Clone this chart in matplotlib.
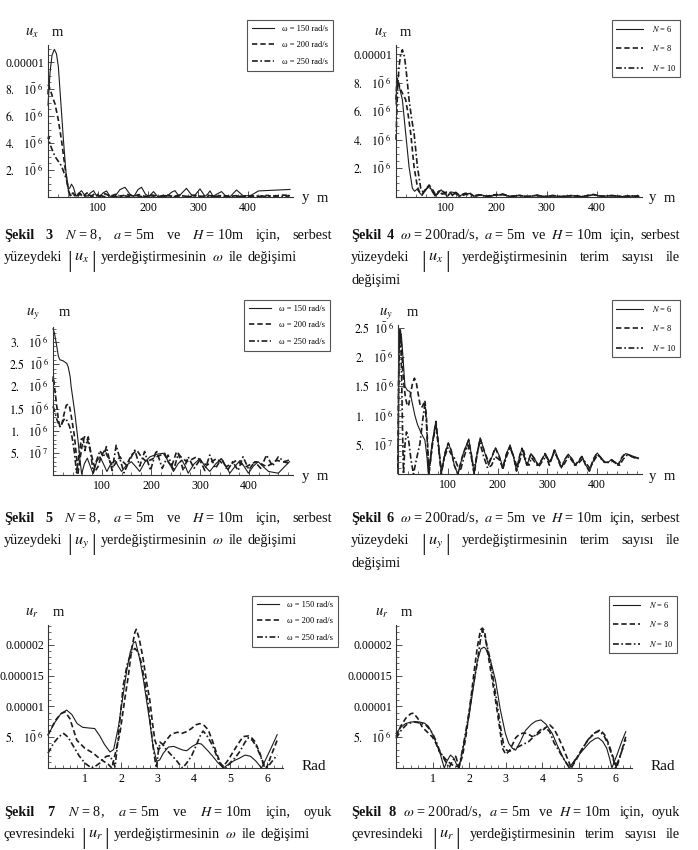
import numpy as np
import matplotlib
matplotlib.use("Agg")
import matplotlib.pyplot as plt
from matplotlib.ticker import FixedLocator, FixedFormatter, MultipleLocator
from matplotlib.lines import Line2D

plt.rcParams['font.family'] = ['Liberation Serif', 'DejaVu Serif']
plt.rcParams['mathtext.fontset'] = 'stix'

# ---------------- data (y values in units of 1e-6 m) ----------------
E6 = 1e-6
# Sekil 3 : |u_x| along free surface, omega variation
s3_w150 = [(0,6.8),(4,9.2),(8,10.5),(12.7,10.94),(17,10.6),(20.7,9.65),(25.3,7.2),(30.7,4.3),(36,1.8),(40.7,0.56),
           (44,0.7),(47,0.95),(51,0.7),(56,0.05),(62,0.3),(67,0.47),(72,0.2),(78,0.05),(85,0.3),(91,0.47),
           (97,0.1),(104,0.05),(110,0.3),(117,0.45),(124,0.05),(134,0.05),(144,0.55),(154,0.72),(164,0.2),(172,0.05),
           (180,0.55),(187,0.72),(195,0.2),(202,0.05),(211,0.4),(219,0.05),(238,0.05),(247,0.35),(254,0.47),(262,0.05),
           (268,0.3),(277,0.64),(286,0.2),(292,0.05),(304,0.6),(314,0.05),(319,0.2),(324,0.45),(330,0.05),(337,0.2),
           (347,0.4),(356,0.05),(365,0.05),(377,0.52),(390,0.1),(405,0.1),(421,0.45),(450,0.5),(484,0.56)]
s3_w200 = [(0,7.6),(1,8.3),(5,7.9),(10,7.3),(14,6.9),(20.7,5.7),(27,4.2),(34,2.2),(40.7,0.5),(44,0.1),(50,0.3),(56,0.05),
           (63,0.3),(70,0.05),(78,0.3),(86,0.05),(95,0.28),(104,0.05),(114,0.25),(124,0.05),(135,0.2),(146,0.05),
           (158,0.2),(170,0.05),(182,0.18),(195,0.03),(208,0.15),(222,0.03),(236,0.18),(250,0.03),(264,0.15),(278,0.03),
           (292,0.14),(306,0.03),(320,0.12),(334,0.03),(348,0.12),(362,0.03),(376,0.1),(390,0.03),(405,0.1),(420,0.03),
           (436,0.12),(452,0.05),(468,0.14),(484,0.12)]
s3_w250 = [(0,4.3),(1.5,4.5),(4,3.9),(14,3.0),(27,2.3),(37,1.3),(41,0.6),(44,0.1),(50,0.2),(56,0.02),(64,0.2),(72,0.02),
           (82,0.15),(92,0.02),(102,0.15),(113,0.02),(125,0.12),(137,0.02),(150,0.12),(163,0.02),(176,0.1),(190,0.02),
           (205,0.1),(220,0.02),(235,0.1),(250,0.02),(265,0.1),(280,0.02),(296,0.08),(312,0.02),(328,0.08),(344,0.02),
           (360,0.08),(376,0.02),(392,0.08),(408,0.02),(424,0.1),(440,0.02),(456,0.1),(472,0.03),(484,0.1)]

# Sekil 4 : |u_x| along free surface, number of terms N
s4_n6 = [(0,6.5),(1.5,8.0),(2.7,8.2),(6,7.8),(12.7,6.8),(19.3,4.45),(26,2.1),(32.7,0.6),(37,0.4),(42,0.55),(47,0.3),
         (52,0.1),(58,0.45),(66,0.8),(72,0.4),(78,0.05),(84,0.35),(90,0.5),(97,0.2),(103,0.05),(110,0.35),(118,0.3),
         (125,0.05),(135,0.2),(146,0.25),(157,0.05),(170,0.15),(183,0.03),(198,0.12),(213,0.15),(228,0.03),(245,0.1),
         (262,0.03),(280,0.1),(296,0.03),(312,0.08),(330,0.03),(350,0.08),(370,0.03),(393,0.15),(410,0.05),(430,0.08),
         (450,0.03),(470,0.06),(484,0.05)]
s4_n8 = [(0,6.8),(1.5,8.1),(2.7,8.3),(8,7.6),(19.3,6.8),(24,5.8),(29.3,4.45),(36,2.1),(42.7,0.7),(47,0.35),(52,0.2),
         (58,0.5),(66,0.84),(73,0.5),(80,0.1),(89,0.5),(97,0.3),(106,0.4),(113,0.1),(119,0.33),(127,0.1),(137,0.25),
         (146,0.3),(155,0.05),(168,0.15),(180,0.05),(195,0.15),(213,0.2),(228,0.05),(245,0.12),(262,0.03),(280,0.12),
         (296,0.03),(312,0.1),(330,0.03),(350,0.1),(370,0.03),(393,0.18),(410,0.05),(430,0.1),(450,0.03),(470,0.08),
         (484,0.05)]
s4_n10 = [(0,4.0),(3,7.5),(6,9.1),(9,9.9),(12.7,10.3),(17,9.8),(21,8.6),(26,6.8),(31,5.5),(36,4.45),(42.7,2.1),
          (49.3,0.6),(55,0.3),(60,0.55),(66,0.75),(72,0.4),(78,0.15),(85,0.4),(92,0.2),(100,0.3),(108,0.1),(118,0.25),
          (128,0.05),(140,0.2),(152,0.05),(165,0.15),(180,0.03),(196,0.12),(213,0.18),(228,0.03),(245,0.1),(262,0.03),
          (280,0.12),(296,0.03),(312,0.1),(330,0.03),(350,0.1),(370,0.03),(393,0.15),(410,0.05),(430,0.1),(450,0.03),
          (470,0.08),(484,0.06)]

# Sekil 5 : |u_y| along free surface, omega variation
s5_w150 = [(0,3.3),(3,3.2),(7,2.95),(11,2.68),(14,2.6),(20,2.58),(24,2.55),(28,2.52),(31,2.44),(35,2.22),(37,2.0),
           (44,1.45),(51,0.79),(55,0.35),(58.5,0.02),(64,0.25),(70,0.38),(76,0.2),(82,0.03),(89,0.3),(96,0.41),
           (103,0.25),(110,0.08),(118,0.25),(127,0.33),(133,0.2),(140,0.08),(150,0.22),(160,0.3),(168,0.2),(177,0.08),
           (188,0.3),(198,0.41),(212,0.47),(225,0.49),(236,0.3),(246,0.08),(255,0.25),(263,0.34),(270,0.2),(276,0.04),
           (288,0.25),(300,0.37),(310,0.2),(320,0.08),(332,0.25),(344,0.37),(353,0.2),(361,0.04),(372,0.2),(382,0.33),
           (391,0.18),(399,0.04),(409,0.2),(419,0.3),(430,0.18),(440,0.08),(450,0.06),(460,0.04),(472,0.18),(483,0.3)]
s5_w200 = [(0,2.1),(0.6,2.22),(3,2.0),(7.5,1.57),(11,1.25),(14,1.09),(18,1.15),(22,1.35),(27,1.57),(31,1.6),(34,1.53),
           (37,1.35),(44,0.86),(48,0.4),(51,0.04),(55,0.35),(60,0.7),(64,0.86),(68.7,0.86),(75,0.6),(82,0.3),(87,0.1),
           (92,0.19),(99,0.45),(106,0.56),(114,0.35),(123,0.19),(130,0.3),(137,0.41),(143,0.3),(150,0.22),(160,0.45),
           (171,0.56),(181,0.4),(191,0.3),(201,0.35),(211,0.41),(220,0.45),(228,0.49),(235,0.3),(242,0.19),(247,0.35),
           (252,0.52),(262,0.4),(273,0.3),(283,0.35),(293,0.41),(303,0.3),(314,0.22),(324,0.3),(334,0.37),(344,0.28),
           (354,0.19),(364,0.25),(374,0.33),(384,0.25),(395,0.19),(405,0.25),(415,0.3),(425,0.25),(436,0.19),(446,0.25),
           (456,0.33),(470,0.3),(483,0.26)]
s5_w250 = [(0,1.55),(3,1.45),(8,1.25),(14,1.09),(19,1.18),(24,1.28),(29,1.22),(34,1.09),(39,0.85),(44,0.49),(48,0.05),
           (53,0.45),(58.5,0.86),(62,0.8),(65,0.55),(68,0.7),(72,0.86),(77,0.5),(82,0.05),(88,0.3),(96,0.55),(103,0.4),
           (109,0.64),(116,0.3),(121,0.1),(125,0.4),(129,0.67),(137,0.35),(145,0.05),(155,0.3),(167,0.56),(177,0.2),
           (187,0.53),(199,0.1),(211,0.56),(223,0.15),(235,0.45),(246,0.1),(256,0.49),(266,0.1),(276,0.41),(288,0.15),
           (300,0.34),(310,0.1),(320,0.45),(332,0.15),(344,0.38),(356,0.1),(367,0.3),(378,0.1),(388,0.41),(400,0.12),
           (412,0.3),(424,0.15),(436,0.45),(448,0.2),(460,0.41),(472,0.3),(483,0.34)]

# Sekil 6 : |u_y| along free surface, number of terms N
s6_n6 = [(0,0.1),(2,2.2),(4,2.47),(7,2.35),(10,2.0),(14,1.5),(19,1.43),(24,1.41),(29,1.2),(34,1.0),(39,0.85),(44,0.75),
         (49,0.66),(54,0.58),(58,0.3),(61,0.0),(68,0.5),(76,0.9),(82,0.45),(87,0.0),(94,0.35),(101,0.53),(107,0.4),
         (113,0.15),(120,0.0),(131,0.35),(142,0.6),(148,0.3),(153,0.0),(159,0.35),(165,0.62),(173,0.4),(182,0.15),
         (189,0.3),(196,0.45),(204,0.3),(211,0.1),(218,0.35),(225,0.5),(232,0.3),(238,0.05),(244,0.3),(249,0.44),
         (255,0.25),(259,0.15),(263,0.25),(267,0.35),(275,0.25),(282,0.15),(289,0.25),(296,0.35),(305,0.2),(310,0.3),
         (315,0.41),(322,0.25),(328,0.1),(335,0.25),(342,0.34),(350,0.25),(356,0.15),(363,0.22),(370,0.3),(377,0.15),
         (385,0.05),(393,0.25),(400,0.36),(408,0.28),(415,0.2),(422,0.2),(429,0.25),(436,0.2),(443,0.17),(450,0.28),
         (457,0.35),(464,0.33),(470,0.31),(477,0.29),(483,0.27)]
s6_n8 = [(0,0.1),(2,2.2),(4,2.47),(7,2.2),(11,1.6),(15,1.3),(18,1.2),(21,1.16),(25,1.35),(29,1.55),(33,1.64),(37,1.55),
         (41,1.35),(45,1.15),(49,1.15),(54,1.26),(57,1.0),(60,0.4),(62,0.0),(69,0.5),(76,0.9),(82,0.45),(87,0.0),
         (94,0.35),(101,0.53),(107,0.4),(113,0.15),(120,0.0),(131,0.35),(142,0.58),(148,0.3),(153,0.0),(159,0.35),
         (165,0.61),(173,0.4),(182,0.2),(189,0.3),(195,0.45),(203,0.3),(210,0.1),(218,0.35),(225,0.47),(232,0.3),
         (238,0.05),(244,0.3),(249,0.44),(255,0.25),(259,0.15),(263,0.25),(267,0.35),(275,0.25),(281,0.15),(289,0.25),
         (295,0.35),(304,0.15),(310,0.3),(314,0.41),(321,0.25),(328,0.1),(335,0.25),(342,0.33),(350,0.25),(355,0.15),
         (362,0.22),(369,0.3),(377,0.15),(384,0.05),(392,0.25),(399,0.35),(407,0.28),(414,0.2),(422,0.2),(429,0.24),
         (436,0.2),(442,0.15),(449,0.28),(455,0.34),(463,0.33),(470,0.3),(477,0.28),(483,0.27)]
s6_n10 = [(0,0.0),(1,1.5),(3,2.35),(5,2.45),(7,1.8),(9,0.8),(11,0.0),(14,0.5),(17,0.72),(21,0.6),(26,0.25),(31,0.0),
          (37,0.25),(44,0.52),(50,0.95),(54,1.2),(57,0.9),(60,0.3),(62,0.0),(69,0.5),(76,0.85),(82,0.4),(87,0.05),
          (94,0.3),(100,0.45),(106,0.35),(112,0.3),(119,0.15),(125,0.05),(133,0.3),(140,0.5),(147,0.3),(152,0.05),
          (158,0.3),(164,0.55),(172,0.3),(180,0.1),(188,0.15),(195,0.3),(203,0.25),(211,0.1),(218,0.3),(225,0.45),
          (232,0.3),(240,0.1),(247,0.3),(252,0.4),(258,0.2),(263,0.15),(268,0.28),(275,0.2),(282,0.12),(290,0.22),
          (297,0.3),(305,0.2),(314,0.38),(322,0.25),(330,0.12),(337,0.22),(343,0.3),(350,0.22),(357,0.15),(364,0.2),
          (371,0.26),(378,0.18),(385,0.1),(393,0.22),(401,0.33),(408,0.26),(416,0.2),(423,0.2),(431,0.22),(438,0.18),
          (445,0.15),(452,0.25),(459,0.32),(466,0.31),(474,0.28),(483,0.26)]

# Sekil 7 : |u_r| around the cavity, omega variation (x in rad)
s7_w150 = [(0,5.35),(0.2,7.5),(0.35,8.8),(0.51,9.4),(0.65,8.7),(0.8,7.2),(0.95,6.6),(1.1,6.5),(1.28,6.4),(1.42,5.2),
           (1.55,3.8),(1.7,2.6),(1.8,3.0),(1.93,6.7),(2.05,11.5),(2.16,15.9),(2.25,18.7),(2.34,20.3),(2.4,20.5),
           (2.52,17.5),(2.61,14.5),(2.7,11.0),(2.8,7.0),(2.88,3.5),(2.98,1.1),(3.06,1.3),(3.16,2.4),(3.3,3.4),(3.45,3.5),
           (3.57,3.2),(3.7,2.9),(3.8,2.8),(3.95,3.5),(4.1,4.0),(4.2,3.9),(4.35,3.0),(4.5,2.0),(4.65,0.9),(4.8,0.0),
           (4.95,0.6),(5.1,1.2),(5.25,1.6),(5.4,2.1),(5.55,1.9),(5.7,1.1),(5.85,0.0),(6.0,1.8),(6.15,3.7),(6.28,5.4)]
s7_w200 = [(0,5.35),(0.2,7.7),(0.35,8.8),(0.47,9.1),(0.6,8.0),(0.79,4.5),(1.01,3.2),(1.24,2.4),(1.4,1.6),(1.52,1.1),
           (1.65,0.6),(1.75,0.0),(1.85,2.5),(1.97,5.6),(2.1,11.0),(2.2,14.9),(2.3,19.5),(2.38,22.0),(2.42,22.5),(2.5,21.0),
           (2.61,17.6),(2.7,14.0),(2.79,11.0),(2.87,7.0),(2.93,4.5),(3.02,3.0),(3.12,3.5),(3.24,4.5),(3.35,5.3),(3.43,5.6),
           (3.55,5.8),(3.66,5.6),(3.8,5.9),(3.93,6.4),(4.05,7.0),(4.16,7.2),(4.28,6.9),(4.39,6.2),(4.5,4.5),(4.62,2.4),
           (4.74,0.6),(4.8,0.2),(4.95,1.4),(5.08,2.7),(5.22,4.0),(5.35,5.1),(5.49,5.2),(5.58,4.9),(5.67,4.3),(5.8,2.5),
           (5.9,0.8),(5.99,0.0),(6.1,1.8),(6.2,3.3),(6.28,4.5)]
s7_w250 = [(0,2.4),(0.15,4.0),(0.3,5.1),(0.43,5.6),(0.55,5.0),(0.7,3.5),(0.85,2.0),(1.01,0.8),(1.19,0.0),(1.3,0.3),
           (1.42,0.8),(1.52,1.5),(1.6,1.9),(1.7,2.0),(1.78,1.0),(1.84,0.2),(1.95,6.5),(2.06,13.3),(2.17,16.8),(2.28,18.7),
           (2.38,19.4),(2.47,18.8),(2.56,17.0),(2.65,14.0),(2.75,10.2),(2.82,6.5),(2.88,3.5),(2.94,1.0),(2.97,0.0),
           (3.02,2.5),(3.07,4.2),(3.15,3.8),(3.24,3.0),(3.38,2.1),(3.51,1.3),(3.6,0.6),(3.69,0.0),(3.8,0.8),(3.93,1.9),
           (4.05,3.5),(4.16,5.1),(4.25,6.0),(4.35,5.3),(4.45,4.3),(4.52,3.5),(4.62,2.0),(4.71,0.8),(4.8,0.3),(4.88,0.0),
           (5.0,0.9),(5.12,1.6),(5.26,2.7),(5.4,4.2),(5.49,4.9),(5.6,4.5),(5.71,3.5),(5.82,2.0),(5.94,0.0),(6.05,0.4),
           (6.17,1.3),(6.28,2.1)]

# Sekil 8 : |u_r| around the cavity, number of terms N
s8_n6 = [(0,5.6),(0.13,6.6),(0.26,7.2),(0.4,7.45),(0.54,7.5),(0.65,7.45),(0.77,7.3),(0.88,6.8),(0.95,6.1),(1.05,4.8),
         (1.13,3.5),(1.2,2.5),(1.27,1.0),(1.32,0.0),(1.4,1.2),(1.49,2.1),(1.58,1.6),(1.66,0.5),(1.72,0.0),(1.85,3.8),
         (1.99,8.2),(2.1,12.5),(2.22,17.3),(2.32,19.3),(2.4,19.6),(2.45,19.4),(2.58,17.5),(2.72,14.2),(2.85,9.5),
         (2.99,5.6),(3.08,4.0),(3.18,3.2),(3.27,2.9),(3.4,4.3),(3.54,6.1),(3.7,7.1),(3.82,7.6),(3.96,7.8),(4.1,7.1),
         (4.27,5.6),(4.4,3.8),(4.55,1.9),(4.65,0.8),(4.73,0.0),(4.9,1.4),(5.08,2.7),(5.3,4.2),(5.45,4.8),(5.53,4.9),
         (5.65,4.3),(5.76,3.2),(5.84,1.5),(5.9,0.0),(6.05,2.3),(6.17,4.3),(6.28,5.9)]
s8_n8 = [(0,5.1),(0.13,6.8),(0.27,8.1),(0.4,8.8),(0.48,8.9),(0.6,8.0),(0.72,6.6),(0.86,5.8),(1.0,5.0),(1.1,3.9),
         (1.18,2.7),(1.27,2.0),(1.36,1.4),(1.45,0.9),(1.54,0.5),(1.63,0.3),(1.72,0.2),(1.82,2.0),(1.91,5.1),(2.02,10.0),
         (2.13,15.4),(2.22,19.5),(2.31,22.4),(2.36,22.7),(2.42,22.2),(2.54,17.5),(2.63,14.3),(2.72,11.0),(2.82,7.0),
         (2.91,3.2),(3.0,2.2),(3.1,2.8),(3.2,4.0),(3.27,4.9),(3.38,5.5),(3.5,5.7),(3.62,5.5),(3.72,5.1),(3.85,5.4),
         (3.99,6.0),(4.1,6.6),(4.2,7.0),(4.32,6.3),(4.43,5.1),(4.55,3.5),(4.66,1.9),(4.73,0.9),(4.79,0.0),(4.93,1.4),
         (5.08,3.0),(5.25,4.6),(5.44,5.7),(5.58,6.2),(5.7,5.4),(5.8,4.1),(5.92,2.0),(6.03,0.0),(6.15,2.4),(6.28,5.1)]
s8_n10 = [(0,4.8),(0.15,6.2),(0.3,7.1),(0.49,7.5),(0.65,7.3),(0.81,7.0),(0.92,6.3),(1.0,5.6),(1.1,4.3),(1.18,3.0),
          (1.25,2.2),(1.32,1.4),(1.39,0.7),(1.45,0.0),(1.54,1.1),(1.63,1.9),(1.68,1.0),(1.72,0.0),(1.85,4.0),(1.99,8.8),
          (2.1,13.0),(2.22,17.0),(2.3,20.5),(2.36,22.4),(2.42,21.5),(2.5,19.5),(2.58,17.5),(2.68,13.5),(2.77,10.2),
          (2.86,6.5),(2.95,3.5),(3.02,2.9),(3.09,2.7),(3.22,3.0),(3.36,3.5),(3.5,3.9),(3.63,4.3),(3.8,5.3),(3.95,6.2),
          (4.09,6.5),(4.2,5.9),(4.32,4.1),(4.45,2.8),(4.59,1.4),(4.68,0.6),(4.77,0.0),(4.92,1.5),(5.08,3.0),(5.25,4.6),
          (5.4,5.6),(5.55,6.0),(5.68,5.3),(5.8,3.8),(5.92,1.8),(6.0,0.0),(6.14,2.2),(6.28,4.6)]

# legend labels
omega_labels = ["ω = 150 rad/s", "ω = 200 rad/s", "ω = 250 rad/s"]
n_labels = ["$N$ = 6", "$N$ = 8", "$N$ = 10"]

# ticks
y_ticks_x = [2, 4, 6, 8, 10]
y_labels_x = [r"$2.\ \ \ 1\bar{0}^{\ 6}$", r"$4.\ \ \ 1\bar{0}^{\ 6}$", r"$6.\ \ \ 1\bar{0}^{\ 6}$",
              r"$8.\ \ \ 1\bar{0}^{\ 6}$", "0.00001"]
y_ticks_y5 = [0.5, 1.0, 1.5, 2.0, 2.5, 3.0]
y_labels_y5 = [r"$5.\ \ \ 1\bar{0}^{\ 7}$", r"$1.\ \ \ 1\bar{0}^{\ 6}$", r"$1.5\ \ 1\bar{0}^{\ 6}$",
               r"$2.\ \ \ 1\bar{0}^{\ 6}$", r"$2.5\ \ 1\bar{0}^{\ 6}$", r"$3.\ \ \ 1\bar{0}^{\ 6}$"]
y_ticks_y6 = y_ticks_y5[:5]
y_labels_y6 = y_labels_y5[:5]
y_ticks_r = [5, 10, 15, 20]
y_labels_r = [r"$5.\ \ \ 1\bar{0}^{\ 6}$", "0.00001", "0.000015", "0.00002"]
x_ticks_y = [100, 200, 300, 400]
x_ticks_rad = [1, 2, 3, 4, 5, 6]

# ---------------- figure ----------------
W, H = 698, 850
fig = plt.figure(figsize=(W / 100, H / 100), dpi=100)
INK = '#1c1c1c'
STYLES = [dict(color=INK, lw=0.8, ls='-'),
          dict(color=INK, lw=1.2, ls=(0, (3.2, 1.8))),
          dict(color=INK, lw=1.2, ls=(0, (3.5, 1.5, 1.0, 1.5)))]


def ftext(xp, yp, s, **kw):
    return fig.text(xp / W, 1 - yp / H, s, **kw)


def make_ax(left, right, top, bottom, xmax, ymax, xt, xminor, yt, ylab, yminor):
    ax = fig.add_axes([left / W, 1 - bottom / H, (right - left) / W, (bottom - top) / H])
    ax.set_xlim(0, xmax)
    ax.set_ylim(0, ymax * E6)
    ax.patch.set_alpha(0)
    for s in ['top', 'right']:
        ax.spines[s].set_visible(False)
    for s in ['left', 'bottom']:
        ax.spines[s].set_linewidth(0.8)
        ax.spines[s].set_color('#333333')
    ax.xaxis.set_major_locator(FixedLocator(xt))
    ax.xaxis.set_major_formatter(FixedFormatter([str(v) for v in xt]))
    ax.xaxis.set_minor_locator(MultipleLocator(xminor))
    ax.yaxis.set_major_locator(FixedLocator([v * E6 for v in yt]))
    ax.yaxis.set_major_formatter(FixedFormatter(ylab))
    ax.yaxis.set_minor_locator(MultipleLocator(yminor * E6))
    ax.tick_params(which='major', direction='in', length=4, width=0.6, color='#333333',
                   labelsize=8.5, pad=3.5)
    ax.tick_params(which='minor', direction='in', length=2, width=0.5, color='#333333')
    ax.tick_params(axis='y', pad=3)
    return ax


def draw(ax, series):
    for ser, st in zip(series, STYLES):
        xs = [p[0] for p in ser]
        ys = [p[1] * E6 for p in ser]
        ax.plot(xs, ys, clip_on=False, **st)


def legend(ax, labels, right, top, spacing, bpad, hlen=2.6):
    handles = [Line2D([], [], **st) for st in STYLES]
    leg = ax.legend(handles, labels, loc='upper right', bbox_to_anchor=(right / W, 1 - top / H),
                    bbox_transform=fig.transFigure, fontsize=6, frameon=True, fancybox=False,
                    edgecolor='#555555', framealpha=1, borderpad=bpad, labelspacing=spacing,
                    handlelength=hlen, handletextpad=1.0, borderaxespad=0)
    leg.get_frame().set_linewidth(0.8)


# panel 1 (Sekil 3)
ax1 = make_ax(48, 293, 45, 197, 490, 11.26, x_ticks_y, 20, y_ticks_x, y_labels_x, 0.5)
draw(ax1, [s3_w150, s3_w200, s3_w250])
legend(ax1, omega_labels, 333, 20, 1.0, 0.6)
# panel 2 (Sekil 4)
ax2 = make_ax(396, 642, 45, 197, 490, 10.63, x_ticks_y, 20, y_ticks_x, y_labels_x, 0.5)
draw(ax2, [s4_n6, s4_n8, s4_n10])
legend(ax2, n_labels, 680, 20, 1.15, 0.45, 3.3)
# panel 3 (Sekil 5)
ax3 = make_ax(53, 293, 327, 475, 490, 3.34, x_ticks_y, 20, y_ticks_y5, y_labels_y5, 0.1)
draw(ax3, [s5_w150, s5_w200, s5_w250])
legend(ax3, omega_labels, 330, 300, 1.0, 0.6)
# panel 4 (Sekil 6)
ax4 = make_ax(398, 642, 325, 474, 490, 2.55, x_ticks_y, 20, y_ticks_y6, y_labels_y6, 0.1)
draw(ax4, [s6_n6, s6_n8, s6_n10])
legend(ax4, n_labels, 680, 300, 1.15, 0.45, 3.3)
# panel 5 (Sekil 7)
ax5 = make_ax(48, 283, 625, 768, 6.44, 23.2, x_ticks_rad, 0.2, y_ticks_r, y_labels_r, 1)
draw(ax5, [s7_w150, s7_w200, s7_w250])
legend(ax5, omega_labels, 338, 596, 1.0, 0.6)
# panel 6 (Sekil 8)
ax6 = make_ax(396, 632, 625, 768, 6.45, 23.2, x_ticks_rad, 0.2, y_ticks_r, y_labels_r, 1)
draw(ax6, [s8_n6, s8_n8, s8_n10])
legend(ax6, n_labels, 677, 596, 1.15, 0.45, 3.3)

# axis labels
AL = dict(fontsize=10.5, ha='center', va='center', color='#111111')
for (ux, mx, yy, sym) in [(32, 57, 33, r"$u_x$"), (381, 405, 33, r"$u_x$"),
                          (33, 64, 313, r"$u_y$"), (386, 412, 313, r"$u_y$"),
                          (32, 58, 613, r"$u_r$"), (382, 406, 613, r"$u_r$")]:
    ftext(ux, yy, sym, **AL)
    ftext(mx, yy - 1, "m", **AL)
for (yx, mx, yy) in [(305, 322, 198), (652, 669, 198), (305, 322, 476), (652, 669, 476)]:
    ftext(yx, yy, "y", **AL)
    ftext(mx, yy, "m", **AL)
ftext(314, 766, "Rad", fontsize=11, ha='center', va='center', color='#111111')
ftext(663, 766, "Rad", fontsize=11, ha='center', va='center', color='#111111')

# ---------------- captions ----------------
renderer = fig.canvas.get_renderer()
CAP_FS = 10.3
TXT = dict(ha='left', va='baseline', color='#111111')


def build_unit(tok, ybase):
    if tok[0] == 'BARS':
        parts = [fig.text(0, 1 - (ybase + 6) / H, "|", fontsize=17, **TXT),
                 fig.text(0, 1 - ybase / H, r"$u_{%s}$" % tok[1], fontsize=11.8, **TXT),
                 fig.text(0, 1 - (ybase + 6) / H, "|", fontsize=17, **TXT)]
        inner = 2.0
    else:
        parts = [fig.text(0, 1 - ybase / H, tok[0], fontsize=CAP_FS, fontweight=tok[1], **TXT)]
        inner = 0.0
    widths = [p.get_window_extent(renderer).width for p in parts]
    return parts, widths, inner


def place_line(tokens, x0, x1, ybase, justify=True, gap=5.0):
    units = [build_unit(t, ybase) for t in tokens]
    totals = [sum(w) + inner * (len(w) - 1) for _, w, inner in units]
    if justify and len(units) > 1:
        g = (x1 - x0 - sum(totals)) / (len(units) - 1)
    else:
        g = gap
    x = x0
    for (parts, widths, inner), tot in zip(units, totals):
        xx = x
        for p, wd in zip(parts, widths):
            p.set_x(xx / W)
            xx += wd + inner
        x += tot + g


B, N = 'bold', 'normal'
L0, L1 = 4, 332
R0, R1 = 351, 680


def cap_omega(num, comp, place_word, where_word, x0, x1, y):
    place_line([("Şekil", B), (str(num), B), ("$N$ = 8,", N), ("$a$ = 5m", N), ("ve", N),
                ("$H$ = 10m", N), ("için,", N), (place_word, N)], x0, x1, y)
    place_line([(where_word, N), ('BARS', comp), ("yerdeğiştirmesinin", N),
                (r"$\omega$", N), ("ile", N), ("değişimi", N)], x0, x1, y + 22, justify=False)


def cap_terms(num, comp, place_word, where_word, x0, x1, y, third=True):
    place_line([("Şekil", B), (str(num), B), (r"$\omega$ = 200rad/s,", N), ("$a$ = 5m", N), ("ve", N),
                ("$H$ = 10m", N), ("için,", N), (place_word, N)], x0, x1, y)
    place_line([(where_word, N), ('BARS', comp), ("yerdeğiştirmesinin", N),
                ("terim", N), ("sayısı", N), ("ile", N)], x0, x1, y + 22)
    if third:
        place_line([("değişimi", N)], x0, x1, y + 45, justify=False)


cap_omega(3, "x", "serbest", "yüzeydeki", L0, L1, 239)
cap_terms(4, "x", "serbest", "yüzeydeki", R0, R1, 239)
cap_omega(5, "y", "serbest", "yüzeydeki", L0, L1, 522)
cap_terms(6, "y", "serbest", "yüzeydeki", R0, R1, 522)
cap_omega(7, "r", "oyuk", "çevresindeki", L0, L1, 816)
cap_terms(8, "r", "oyuk", "çevresindeki", R0, R1, 816, third=False)

fig.savefig("out.png", dpi=100)
